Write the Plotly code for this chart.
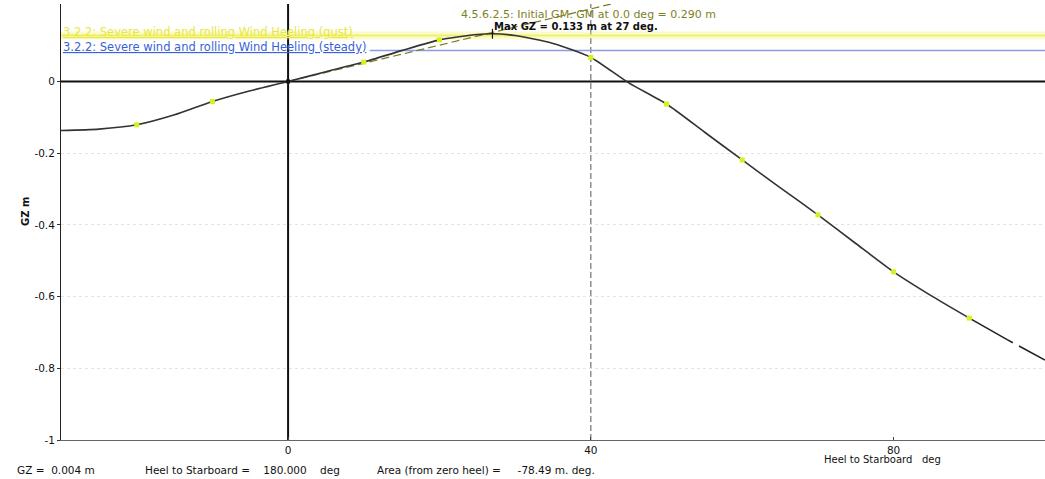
import plotly.graph_objects as go

# Righting-lever (GZ) curve, heel in degrees, GZ in metres
heel = [-30, -25, -20, -15, -10, -5, 0, 5, 10, 15, 20, 25, 27, 30, 35, 40,
        45, 50, 55, 60, 65, 70, 75, 80, 85, 90]
gz = [-0.137, -0.133, -0.121, -0.093, -0.056, -0.026, 0.0, 0.027, 0.054, 0.086,
      0.116, 0.131, 0.133, 0.128, 0.106, 0.067, -0.004, -0.063, -0.141, -0.219,
      -0.296, -0.372, -0.452, -0.531, -0.598, -0.660]
tail_heel = [90, 95, 100]
tail_gz = [-0.660, -0.720, -0.777]

# Points highlighted every 10 deg
mark_heel = [-20, -10, 10, 20, 40, 50, 60, 70, 80, 90]
mark_gz = [-0.121, -0.056, 0.054, 0.116, 0.067, -0.063, -0.219, -0.372, -0.531, -0.660]

# Criteria
gm0 = 0.290                # initial GM, m (slope of GZ per radian)
gm_heel = [0, 57.3]
gm_gz = [0, gm0]
gust_heel = [-30, 100]
gust_gz = [0.128, 0.128]
steady_heel = [10.8, 100]
steady_gz = [0.0865, 0.0865]
max_heel, max_gz = 27, 0.133

# Read-out values
readout_gz = 0.004
readout_heel = 180.0
readout_area = -78.49

FONT = "DejaVu Sans, Verdana, sans-serif"

# plot-area pixel box, used to place free text in paper coordinates
L, R, T, B = 61, 1045, 4, 440


def px_x(px):
    return (px - L) / (R - L)


def px_y(py):
    return (B - py) / (B - T)


fig = go.Figure()

# zero axes
fig.add_trace(go.Scatter(x=[-30, 100], y=[0, 0], mode="lines",
                         line=dict(color="#111111", width=2), hoverinfo="skip"))
fig.add_trace(go.Scatter(x=[0, 0], y=[-1.0, 0.216], mode="lines",
                         line=dict(color="#111111", width=2), hoverinfo="skip"))
fig.add_trace(go.Scatter(x=[40, 40], y=[-1.0, 0.216], mode="lines",
                         line=dict(color="#555555", width=1, dash="6px,3px"),
                         hoverinfo="skip"))

fig.add_trace(go.Scatter(x=gust_heel, y=gust_gz, mode="lines",
                         line=dict(color="rgba(240,240,90,0.30)", width=8),
                         hoverinfo="skip"))
fig.add_trace(go.Scatter(x=gust_heel, y=gust_gz, mode="lines",
                         line=dict(color="#f0f070", width=2), hoverinfo="skip"))
fig.add_trace(go.Scatter(x=steady_heel, y=steady_gz, mode="lines",
                         line=dict(color="#8d9ae6", width=1.5), hoverinfo="skip"))
fig.add_trace(go.Scatter(x=gm_heel, y=gm_gz, mode="lines",
                         line=dict(color="#7a7a22", width=1.2, dash="8px,4px"),
                         hoverinfo="skip"))
fig.add_trace(go.Scatter(x=heel, y=gz, mode="lines",
                         line=dict(color="#333333", width=1.6, shape="spline",
                                   smoothing=0.6),
                         hoverinfo="skip"))
fig.add_trace(go.Scatter(x=tail_heel, y=tail_gz, mode="lines",
                         line=dict(color="#222222", width=1.6, dash="50px,7px"),
                         hoverinfo="skip"))
fig.add_trace(go.Scatter(x=mark_heel, y=mark_gz, mode="markers",
                         marker=dict(color="#d8f020", size=5, symbol="square"),
                         hoverinfo="skip"))
fig.add_trace(go.Scatter(x=[0], y=[0], mode="markers",
                         marker=dict(color="#111111", size=4, symbol="square"),
                         hoverinfo="skip"))
fig.add_trace(go.Scatter(x=[max_heel], y=[max_gz], mode="markers",
                         marker=dict(color="#111111", size=7, symbol="line-ns",
                                     line=dict(width=1.2, color="#111111")),
                         hoverinfo="skip"))

texts = [
    dict(y=0.138, text="3.2.2: Severe wind and rolling Wind Heeling (gust)",
         color="#e8e83c"),
    dict(y=0.096, text="3.2.2: Severe wind and rolling Wind Heeling (steady)",
         color="#3a62d8"),
]
for t in texts:
    fig.add_annotation(x=-30, y=t["y"], xref="x", yref="y", xanchor="left",
                       yanchor="middle", showarrow=False,
                       text="<u>" + t["text"] + "</u>",
                       font=dict(family=FONT, size=11.5, color=t["color"]))

fig.add_annotation(x=22.6, y=0.186, xref="x", yref="y", xanchor="left",
                   yanchor="middle", showarrow=False,
                   text="4.5.6.2.5: Initial GM: GM at 0.0 deg = %.3f m" % gm0,
                   font=dict(family=FONT, size=11, color="#7f7f1e"))
fig.add_annotation(x=26.9, y=0.152, xref="x", yref="y", xanchor="left",
                   yanchor="middle", showarrow=False,
                   text="<b>Max GZ = %.3f m at %d deg.</b>" % (max_gz, max_heel),
                   font=dict(family=FONT, size=10, color="#111111"))

fig.add_annotation(x=px_x(882), y=px_y(459), xref="paper", yref="paper",
                   xanchor="center", yanchor="middle", showarrow=False,
                   text="Heel to Starboard   deg",
                   font=dict(family=FONT, size=10, color="#111111"))
fig.add_annotation(x=px_x(25), y=px_y(212), xref="paper", yref="paper",
                   showarrow=False, textangle=-90, text="<b>GZ m</b>",
                   xanchor="center", yanchor="middle",
                   font=dict(family=FONT, size=10, color="#111111"))

bottom = [(15, "GZ =  %.3f m" % readout_gz),
          (143, "Heel to Starboard =    %.3f    deg" % readout_heel),
          (375, "Area (from zero heel) =     %.2f m. deg." % readout_area)]
for px, txt in bottom:
    fig.add_annotation(x=px_x(px), y=px_y(470), xref="paper", yref="paper",
                       xanchor="left", yanchor="middle", showarrow=False,
                       text=txt, font=dict(family=FONT, size=10.5, color="#111111"))

fig.update_layout(
    width=1045, height=479,
    margin=dict(l=L, r=1045 - R, t=T, b=479 - B),
    paper_bgcolor="white", plot_bgcolor="white",
    showlegend=False,
    font=dict(family=FONT, size=10, color="#111111"),
    xaxis=dict(range=[-30, 100], tickvals=[0, 40, 80], showgrid=False,
               zeroline=False, showline=True, linecolor="#666666", linewidth=1,
               ticks="inside", ticklen=3, tickcolor="#444444",
               tickfont=dict(family=FONT, size=10.5, color="#111111")),
    yaxis=dict(range=[-1.0, 0.216], tickvals=[-1, -0.8, -0.6, -0.4, -0.2, 0],
               ticktext=["-1", "-0.8", "-0.6", "-0.4", "-0.2", "0"],
               showgrid=True, gridcolor="#e4e4e4", griddash="dot", gridwidth=1,
               zeroline=False, showline=True, linecolor="#222222", linewidth=1,
               ticks="outside", ticklen=3, tickcolor="#333333",
               tickfont=dict(family=FONT, size=10.5, color="#111111")),
)

fig.write_html("out.html")
